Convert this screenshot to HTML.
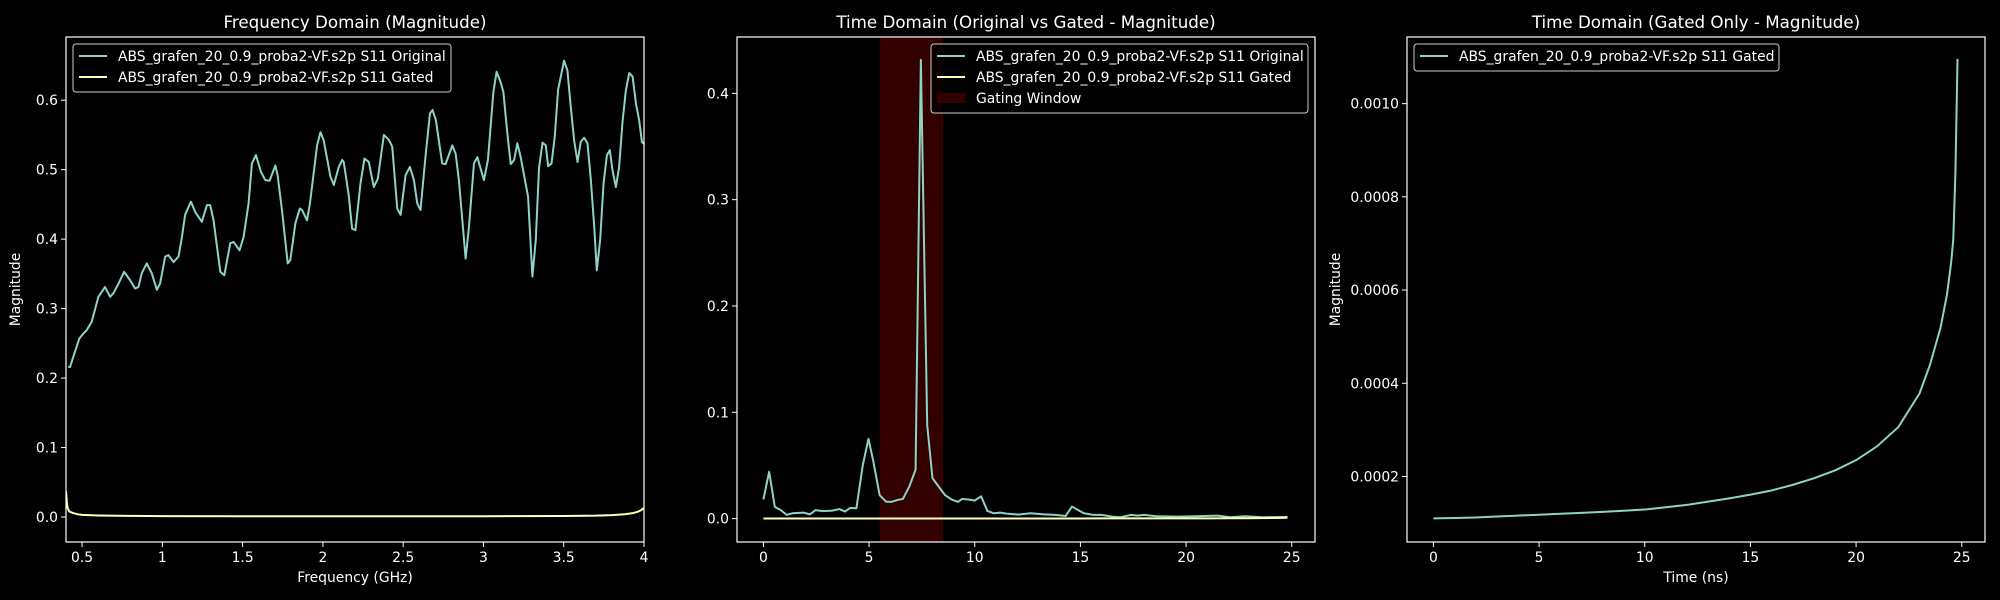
<!DOCTYPE html>
<html><head><meta charset="utf-8"><style>
html,body{margin:0;padding:0;background:#000;}
svg{display:block;font-family:"DejaVu Sans","Liberation Sans",sans-serif;}
</style></head><body>
<svg id="fig" width="2000" height="600" viewBox="0 0 2000 600"></svg>
<script>
// ---- Panel 1 data (frequency domain) ----
const freqOrig = [0.414,0.425,0.483,0.508,0.529,0.560,0.602,0.643,0.675,0.695,0.727,0.762,0.799,0.830,0.851,0.872,0.903,0.934,0.966,0.986,1.018,1.038,1.070,1.101,1.122,1.142,1.178,1.205,1.246,1.278,1.298,1.319,1.361,1.386,1.423,1.444,1.481,1.506,1.537,1.558,1.583,1.614,1.641,1.668,1.704,1.718,1.745,1.781,1.797,1.829,1.856,1.870,1.901,1.918,1.964,1.985,2.005,2.047,2.068,2.099,2.120,2.130,2.161,2.182,2.203,2.234,2.259,2.286,2.317,2.342,2.380,2.411,2.432,2.463,2.484,2.515,2.542,2.567,2.588,2.608,2.640,2.667,2.683,2.704,2.743,2.764,2.806,2.827,2.847,2.879,2.889,2.910,2.941,2.962,3.003,3.028,3.062,3.082,3.107,3.124,3.149,3.170,3.191,3.211,3.232,3.278,3.305,3.326,3.346,3.368,3.388,3.403,3.424,3.444,3.465,3.502,3.523,3.544,3.565,3.586,3.606,3.627,3.648,3.669,3.690,3.706,3.727,3.748,3.769,3.787,3.804,3.825,3.845,3.867,3.887,3.908,3.929,3.950,3.970,3.987,4.0];
const magOrig = [0.216,0.216,0.257,0.264,0.269,0.281,0.317,0.331,0.317,0.322,0.336,0.353,0.341,0.329,0.331,0.351,0.365,0.351,0.327,0.336,0.375,0.377,0.367,0.375,0.403,0.435,0.454,0.439,0.425,0.449,0.449,0.427,0.353,0.348,0.394,0.396,0.384,0.403,0.451,0.509,0.521,0.497,0.485,0.484,0.506,0.492,0.442,0.365,0.370,0.423,0.444,0.442,0.427,0.449,0.535,0.554,0.542,0.490,0.478,0.504,0.514,0.511,0.463,0.415,0.413,0.480,0.516,0.511,0.475,0.487,0.550,0.543,0.533,0.444,0.435,0.492,0.504,0.485,0.451,0.442,0.521,0.581,0.586,0.571,0.509,0.508,0.535,0.523,0.485,0.399,0.372,0.418,0.509,0.518,0.485,0.514,0.612,0.641,0.626,0.612,0.552,0.508,0.514,0.538,0.518,0.461,0.346,0.399,0.502,0.539,0.535,0.505,0.509,0.547,0.615,0.657,0.643,0.590,0.542,0.511,0.540,0.546,0.538,0.485,0.418,0.355,0.399,0.480,0.521,0.528,0.499,0.475,0.504,0.571,0.614,0.639,0.634,0.595,0.571,0.540,0.537];
const freqGated = [0.4,0.405,0.41,0.42,0.44,0.47,0.5,0.6,0.8,1.0,1.5,2.0,2.5,3.0,3.5,3.7,3.8,3.88,3.93,3.96,3.98,4.0];
const magGated = [0.037,0.022,0.013,0.008,0.006,0.004,0.003,0.0022,0.0016,0.0013,0.0011,0.001,0.001,0.0011,0.0014,0.0019,0.0027,0.004,0.0055,0.0075,0.0095,0.013];
const p1XTicks = [0.5,1,1.5,2,2.5,3,3.5,4];
const p1XTickLabels = ["0.5","1","1.5","2","2.5","3","3.5","4"];
const p1YTicks = [0,0.1,0.2,0.3,0.4,0.5,0.6];
const p1YTickLabels = ["0.0","0.1","0.2","0.3","0.4","0.5","0.6"];

// ---- Panel 2 data (time domain original) ----
const timeOrig = [0,0.27,0.54,0.82,1.1,1.37,1.92,2.2,2.47,2.8,3.26,3.6,3.86,4.1,4.4,4.7,4.97,5.2,5.5,5.8,6.05,6.35,6.6,6.9,7.2,7.45,7.75,8.0,8.3,8.6,8.9,9.2,9.4,9.7,10.0,10.3,10.6,10.9,11.2,11.5,12.05,12.64,13.27,13.8,14.3,14.6,15.16,15.6,16.0,16.5,16.9,17.4,17.7,18.0,18.6,19.6,20.5,21.5,22.1,22.8,23.6,24.8];
const magTimeOrig = [0.018,0.044,0.011,0.008,0.0035,0.005,0.0056,0.004,0.008,0.007,0.0075,0.009,0.0066,0.010,0.0097,0.050,0.075,0.054,0.022,0.016,0.0157,0.0176,0.0185,0.030,0.046,0.4315,0.088,0.038,0.030,0.022,0.018,0.0157,0.0185,0.018,0.017,0.021,0.0072,0.005,0.0056,0.0047,0.0038,0.005,0.004,0.0035,0.0025,0.0113,0.005,0.0035,0.0035,0.0019,0.0013,0.0035,0.0028,0.0035,0.0022,0.0019,0.0022,0.0028,0.0013,0.0022,0.0013,0.0016];
const gateStart = 5.5;
const gateEnd = 8.5;
const p2XTicks = [0,5,10,15,20,25];
const p2XTickLabels = ["0","5","10","15","20","25"];
const p2YTicks = [0,0.1,0.2,0.3,0.4];
const p2YTickLabels = ["0.0","0.1","0.2","0.3","0.4"];

// ---- Panel 3 data (gated time domain) ----
const timeGated = [0,1,2,3,4,5,6,7,8,9,10,11,12,13,14,15,16,17,18,19,20,21,22,23,23.5,24,24.3,24.5,24.6,24.7,24.8];
const magTimeGated = [1.10e-4,1.11e-4,1.12e-4,1.14e-4,1.16e-4,1.18e-4,1.20e-4,1.22e-4,1.24e-4,1.265e-4,1.29e-4,1.34e-4,1.39e-4,1.46e-4,1.53e-4,1.61e-4,1.70e-4,1.82e-4,1.96e-4,2.13e-4,2.35e-4,2.65e-4,3.06e-4,3.78e-4,4.4e-4,5.2e-4,5.9e-4,6.6e-4,7.1e-4,8.5e-4,10.96e-4];
const p3XTicks = [0,5,10,15,20,25];
const p3XTickLabels = ["0","5","10","15","20","25"];
const p3YTicks = [0.0002,0.0004,0.0006,0.0008,0.0010];
const p3YTickLabels = ["0.0002","0.0004","0.0006","0.0008","0.0010"];

const NS = "http://www.w3.org/2000/svg";
const svg = document.getElementById('fig');
const CYAN = "#8dd3c7", YEL = "#ffffb3";
function mk(tag, attrs, parent){ const e=document.createElementNS(NS,tag); for(const k in attrs) e.setAttribute(k,attrs[k]); (parent||svg).appendChild(e); return e; }
function scale(d0,d1,r0,r1){ return v => r0 + (v-d0)/(d1-d0)*(r1-r0); }

function panel(id, box, xdom, ydom, title, xlabel, ylabel, xt, xtl, yt, ytl){
  const g = mk('g',{});
  
  
  const sx = scale(xdom[0],xdom[1],box.x0,box.x1);
  const sy = scale(ydom[0],ydom[1],box.y1,box.y0);
  const t = mk('text',{x:(box.x0+box.x1)/2,y:box.y0-9,'text-anchor':'middle','font-size':'16.7',fill:'#fff'},g);
  t.textContent = title;
  
  
  xt.forEach((v,i)=>{
    const x=sx(v);
    mk('line',{x1:x,x2:x,y1:box.y1,y2:box.y1+5,stroke:'#fff','stroke-width':1},g);
    const tl=mk('text',{x:x,y:box.y1+20,'text-anchor':'middle','font-size':'13.9',fill:'#fff'},g);
    tl.textContent = xtl[i];
    
    
  });
  yt.forEach((v,i)=>{
    const y=sy(v);
    mk('line',{x1:box.x0-5,x2:box.x0,y1:y,y2:y,stroke:'#fff','stroke-width':1},g);
    const tl=mk('text',{x:box.x0-8,y:y+5,'text-anchor':'end','font-size':'13.9',fill:'#fff'},g);
    tl.textContent = ytl[i];
    
    
  });
  if(xlabel){
    const xl=mk('text',{x:(box.x0+box.x1)/2,y:582,'text-anchor':'middle','font-size':'13.9',fill:'#fff'},g);
    xl.textContent=xlabel;
    
    
  }
  if(ylabel){
    const lx = box.ylx;
    const yl=mk('text',{x:lx,y:(box.y0+box.y1)/2,'text-anchor':'middle','font-size':'13.9',fill:'#fff',transform:`rotate(-90 ${lx} ${(box.y0+box.y1)/2})`},g);
    yl.textContent=ylabel;
    
    
  }
  const cid='clip'+id;
  const cp=mk('clipPath',{id:cid},g); mk('rect',{x:box.x0,y:box.y0,width:box.x1-box.x0,height:box.y1-box.y0},cp);
  const plot=mk('g',{'clip-path':`url(#${cid})`},g);
  return {g,plot,sx,sy,box};
}
function line(P, xs, ys, color, name){
  const d = xs.map((x,i)=>(i?'L':'M')+P.sx(x).toFixed(2)+','+P.sy(ys[i]).toFixed(2)).join('');
  const p = mk('path',{d:d,fill:'none',stroke:color,'stroke-width':2,'stroke-linejoin':'round'},P.plot);
  
  
}
function frame(P){
  const b=P.box;
  mk('rect',{x:b.x0,y:b.y0,width:b.x1-b.x0,height:b.y1-b.y0,fill:'none',stroke:'#fff','stroke-width':1.2},P.g);
}
function legend(P, x, y, w, entries){
  const lg = mk('g',{},P.g);
  
  
  mk('rect',{x:x,y:y,width:w,height:6+entries.length*21,rx:3,fill:'#000','fill-opacity':0.8,stroke:'#cccccc','stroke-width':1},lg);
  entries.forEach((e,i)=>{
    const cy=y+12+i*21;
    const it = mk('g',{},lg);
    
    
    if(e.patch) mk('rect',{x:x+6,y:cy-5,width:28,height:10,fill:'#330000'},it);
    else mk('line',{x1:x+6,x2:x+34,y1:cy,y2:cy,stroke:e.color,'stroke-width':2},it);
    const tx=mk('text',{x:x+45,y:cy+5,'font-size':'13.9',fill:'#fff'},it);
    tx.textContent=e.label;
  });
}

// Panel 1
const P1 = panel('frequency-panel',{x0:66,x1:644,y0:37,y1:542,ylx:20},[0.4,4.0],[-0.036,0.691],
  'Frequency Domain (Magnitude)','Frequency (GHz)','Magnitude',p1XTicks,p1XTickLabels,p1YTicks,p1YTickLabels);
line(P1,freqOrig,magOrig,CYAN,'original-line');
line(P1,freqGated,magGated,YEL,'gated-line');
frame(P1);
legend(P1,73,44,378,[{color:CYAN,label:'ABS_grafen_20_0.9_proba2-VF.s2p S11 Original'},{color:YEL,label:'ABS_grafen_20_0.9_proba2-VF.s2p S11 Gated'}]);

// Panel 2
const P2 = panel('time-compare-panel',{x0:737,x1:1315,y0:37,y1:542},[-1.25,26.1],[-0.022,0.453],
  'Time Domain (Original vs Gated - Magnitude)',null,null,p2XTicks,p2XTickLabels,p2YTicks,p2YTickLabels);
const gw = mk('rect',{x:P2.sx(gateStart),y:37,width:P2.sx(gateEnd)-P2.sx(gateStart),height:505,fill:'#330000'},P2.plot);


line(P2,timeOrig,magTimeOrig,CYAN,'original-time-line');
line(P2,timeGated,magTimeGated,YEL,'gated-time-line');
frame(P2);
legend(P2,931,44,377,[{color:CYAN,label:'ABS_grafen_20_0.9_proba2-VF.s2p S11 Original'},{color:YEL,label:'ABS_grafen_20_0.9_proba2-VF.s2p S11 Gated'},{patch:true,label:'Gating Window'}]);

// Panel 3
const P3 = panel('time-gated-panel',{x0:1407,x1:1985,y0:37,y1:542,ylx:1340},[-1.25,26.1],[0.0000594,0.001143],
  'Time Domain (Gated Only - Magnitude)','Time (ns)','Magnitude',p3XTicks,p3XTickLabels,p3YTicks,p3YTickLabels);
line(P3,timeGated,magTimeGated,CYAN,'gated-only-line');
frame(P3);
legend(P3,1414,44,365,[{color:CYAN,label:'ABS_grafen_20_0.9_proba2-VF.s2p S11 Gated'}]);
</script>
</body></html>
